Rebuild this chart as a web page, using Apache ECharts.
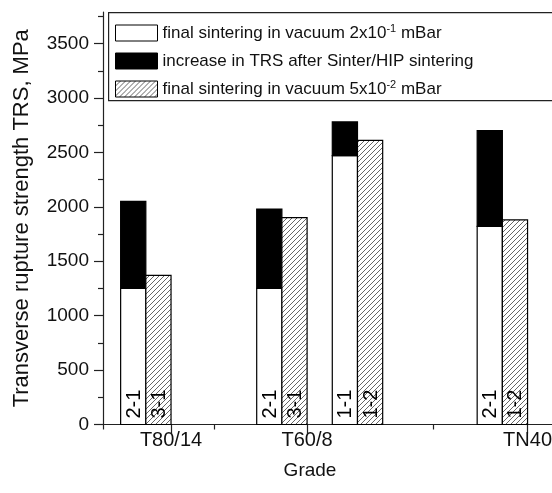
<!DOCTYPE html>
<html>
<head>
<meta charset="utf-8">
<script src="https://cdn.jsdelivr.net/npm/echarts@6/dist/echarts.min.js"></script>
<style>html,body{margin:0;padding:0;background:#fff}#c{width:552px;height:493px}</style>
</head>
<body>
<div id="c"></div>
<script>
// ---- data ----
const grades = ['T80/14', 'T60/8', 'TN40'];
const gradeTickPos = [2.7, 8.1, 16.85];
const minorTickPos = [0, 4.4, 13.1];
const yTickValues = [0, 500, 1000, 1500, 2000, 2500, 3000, 3500];
const yMinorTickValues = [250, 750, 1250, 1750, 2250, 2750, 3250, 3750];
const seriesNames = [
  'final sintering in vacuum 2x10-1 mBar',
  'increase in TRS after Sinter/HIP sintering',
  'final sintering in vacuum 5x10-2 mBar'
];
const vac2Labels = ['2-1', '2-1', '1-1', '2-1'];
const vac2Values = [1250, 1250, 2470, 1820];
const hipIncrease = [800, 730, 310, 880];
const vac5Labels = ['3-1', '3-1', '1-2', '1-2'];
const vac5Values = [1370, 1900, 2610, 1880];
const vac2Slots = [0.7, 6.1, 9.1, 14.85];
const vac5Slots = [1.7, 7.1, 10.1, 15.85];

// ---- hatch pattern ----
function makeHatch() {
  const s = 5;
  const c = document.createElement('canvas');
  c.width = s; c.height = s;
  const g = c.getContext('2d');
  g.fillStyle = '#fff'; g.fillRect(0, 0, s, s);
  g.strokeStyle = '#555'; g.lineWidth = 0.9;
  g.beginPath();
  g.moveTo(-1, s + 1); g.lineTo(s + 1, -1);
  g.moveTo(-1, 1); g.lineTo(1, -1);
  g.moveTo(s - 1, s + 1); g.lineTo(s + 1, s - 1);
  g.stroke();
  return c;
}
const hatch = { image: makeHatch(), repeat: 'repeat' };
const FONT = '"Liberation Sans", Arial, sans-serif';

function barRenderer(fill, labels) {
  return function (params, api) {
    const x0 = api.value(0), base = api.value(1), v = api.value(2);
    const p0 = api.coord([x0, base]);
    const p1 = api.coord([x0 + 1, base + v]);
    const children = [{
      type: 'rect',
      shape: { x: p0[0], y: p1[1], width: p1[0] - p0[0], height: p0[1] - p1[1] },
      style: { fill: fill, stroke: '#000', lineWidth: 1.2 }
    }];
    if (labels) {
      children.push({
        type: 'text',
        x: (p0[0] + p1[0]) / 2 + 1,
        y: p0[1] - 6,
        rotation: Math.PI / 2,
        style: {
          text: labels[params.dataIndex], fill: '#000',
          font: '20px ' + FONT, align: 'left', verticalAlign: 'middle'
        }
      });
    }
    return { type: 'group', children: children };
  };
}

const vac2Data = vac2Slots.map((s, i) => [s, 0, vac2Values[i]]);
const hipData = vac2Slots.map((s, i) => [s, vac2Values[i], hipIncrease[i]]);
const vac5Data = vac5Slots.map((s, i) => [s, 0, vac5Values[i]]);

function legendFmt(name) {
  const m = name.match(/^(.*x10)(-\d)( mBar)$/);
  if (m) return m[1] + '{sup|' + m[2] + '}' + m[3];
  return name;
}

const chart = echarts.init(document.getElementById('c'), null, { renderer: 'canvas' });
chart.setOption({
  animation: false,
  backgroundColor: '#fff',
  grid: { left: 103, top: 12, bottom: 68.5, right: 0, show: false, outerBoundsMode: 'none', containLabel: false },
  graphic: [{
    type: 'rect', left: 108, top: 12, z: 3,
    shape: { width: 480, height: 88 },
    style: { fill: '#fff', stroke: '#222', lineWidth: 1.2 }
  }],
  legend: {
    orient: 'vertical', left: 108, top: 12, z: 5,
    padding: [11, 5, 4, 7],
    itemWidth: 42, itemHeight: 16, itemGap: 8,
    selectedMode: false,
    textStyle: {
      fontFamily: FONT, fontSize: 17, color: '#111', lineHeight: 20,
      rich: { sup: { fontSize: 11, verticalAlign: 'top', lineHeight: 20, fontFamily: FONT, color: '#111' } }
    },
    formatter: legendFmt,
    data: [
      { name: seriesNames[0], icon: 'rect', itemStyle: { color: '#fff', borderColor: '#000', borderWidth: 1 } },
      { name: seriesNames[1], icon: 'rect', itemStyle: { color: '#000', borderColor: '#000', borderWidth: 1 } },
      { name: seriesNames[2], icon: 'rect', itemStyle: { color: hatch, borderColor: '#000', borderWidth: 1 } }
    ]
  },
  xAxis: [{
    type: 'value', min: 0, max: 17.82,
    name: 'Grade', nameLocation: 'middle', nameGap: 37,
    nameTextStyle: { fontFamily: FONT, fontSize: 19, color: '#111', padding: [0, 35, 0, 0] },
    axisLine: { show: true, onZero: false, lineStyle: { color: '#222', width: 1.2 } },
    axisTick: { show: true, customValues: gradeTickPos, length: 9, lineStyle: { color: '#222', width: 1.2 } },
    axisLabel: {
      customValues: gradeTickPos, margin: 6, hideOverlap: false,
      formatter: function (v) { const i = gradeTickPos.indexOf(v); return i >= 0 ? grades[i] : ''; },
      fontFamily: FONT, fontSize: 20, color: '#111'
    },
    splitLine: { show: false }
  }, {
    type: 'value', min: 0, max: 17.82, position: 'bottom',
    axisLine: { show: false },
    axisTick: { show: true, customValues: minorTickPos, length: 5, lineStyle: { color: '#222', width: 1.2 } },
    axisLabel: { show: false },
    splitLine: { show: false }
  }, {
    type: 'value', min: 0, max: 17.82, position: 'top',
    axisLine: { show: true, lineStyle: { color: '#222', width: 1.2 } },
    axisTick: { show: false }, axisLabel: { show: false }, splitLine: { show: false }
  }],
  yAxis: [{
    type: 'value', min: 0, max: 3790,
    name: 'Transverse rupture strength TRS, MPa', nameLocation: 'middle', nameGap: 70,
    nameTextStyle: { fontFamily: FONT, fontSize: 22, color: '#111' },
    axisLine: { show: true, lineStyle: { color: '#222', width: 1.2 } },
    axisTick: { show: true, customValues: yTickValues, length: 9, lineStyle: { color: '#222', width: 1.2 } },
    axisLabel: {
      customValues: yTickValues, margin: 14, fontFamily: FONT, fontSize: 19, color: '#111',
      formatter: function (v) { return String(v); }
    },
    splitLine: { show: false }
  }, {
    type: 'value', min: 0, max: 3790, position: 'left',
    axisLine: { show: false },
    axisTick: { show: true, customValues: yMinorTickValues, length: 5, lineStyle: { color: '#222', width: 1.2 } },
    axisLabel: { show: false },
    splitLine: { show: false }
  }],
  series: [
    { name: seriesNames[0], type: 'custom', renderItem: barRenderer('#fff', vac2Labels),
      itemStyle: { color: '#fff' }, encode: { x: 0, y: [1, 2] }, data: vac2Data, z: 2 },
    { name: seriesNames[1], type: 'custom', renderItem: barRenderer('#000', null),
      itemStyle: { color: '#000' }, encode: { x: 0, y: [1, 2] }, data: hipData, z: 2 },
    { name: seriesNames[2], type: 'custom', renderItem: barRenderer(hatch, vac5Labels),
      itemStyle: { color: hatch }, encode: { x: 0, y: [1, 2] }, data: vac5Data, z: 2 }
  ]
});
</script>
</body>
</html>
